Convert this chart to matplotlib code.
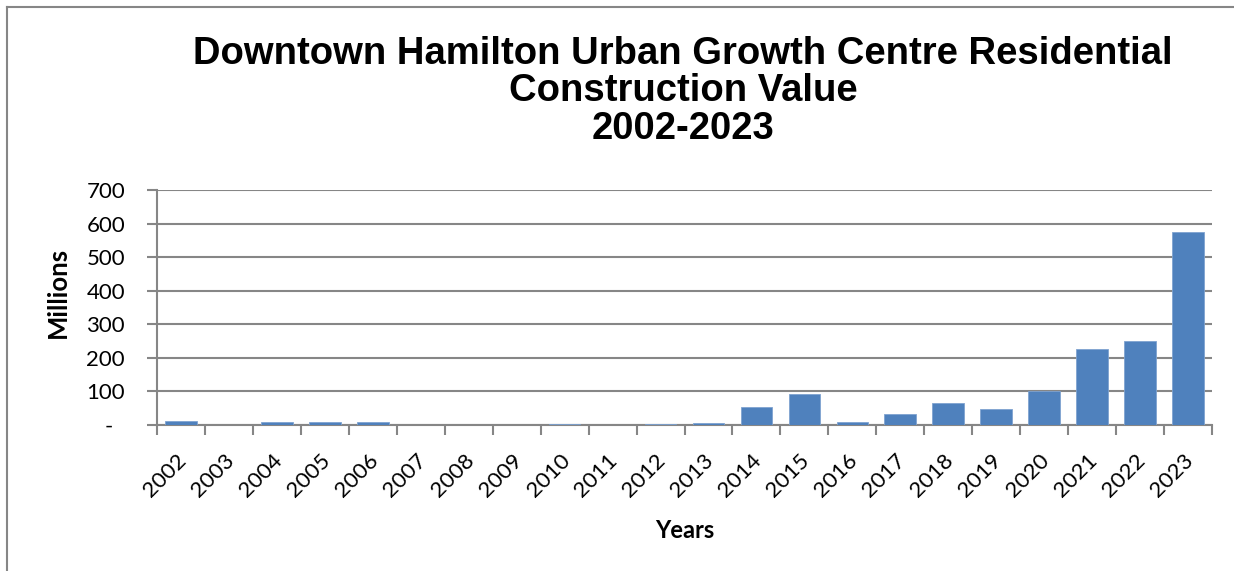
import matplotlib.pyplot as plt
import matplotlib.transforms as mtransforms
import numpy as np

years = [str(y) for y in range(2002, 2024)]
values = [13, 0, 8, 8, 10, 0, 0, 0, 2, 0, 4, 7,
          55, 93, 9, 33, 67, 48, 101, 225, 251, 575]
y_ticks = [0, 100, 200, 300, 400, 500, 600, 700]
y_tick_labels = ['-  ', '100', '200', '300', '400', '500', '600', '700']

title = 'Downtown Hamilton Urban Growth Centre Residential\nConstruction Value\n2002-2023'

BAR_COLOR = '#4F81BD'
GRID_COLOR = '#868686'
LABEL_FONT = 'Lato'

fig = plt.figure(figsize=(12.34, 5.71), dpi=100)
ax = fig.add_axes([157 / 1234, 1 - 425 / 571, (1212 - 157) / 1234, (425 - 190) / 571])

x = np.arange(len(years))
ax.bar(x, values, width=0.66, color=BAR_COLOR, edgecolor='#7fa3d0', linewidth=0.6, zorder=3)

ax.set_xlim(-0.5, len(years) - 0.5)
ax.set_ylim(0, 700)

# y axis
ax.set_yticks(y_ticks)
ax.set_yticklabels(y_tick_labels, fontsize=16, family=LABEL_FONT)
ax.yaxis.grid(True, color=GRID_COLOR, linewidth=1.5, zorder=0)
ax.tick_params(axis='y', length=7, width=1.5, color=GRID_COLOR, pad=16)

# x axis: ticks at category boundaries, labels at centres
ax.set_xticks(np.arange(-0.5, len(years)), minor=False)
ax.set_xticklabels([])
ax.set_xticks(x, minor=True)
ax.set_xticklabels(years, minor=True, rotation=45, ha='right', va='top',
                   rotation_mode='anchor', fontsize=16, family=LABEL_FONT)
ax.tick_params(axis='x', which='major', length=7, width=1.5, color=GRID_COLOR)
ax.tick_params(axis='x', which='minor', length=0, pad=18)
shift = mtransforms.ScaledTranslation(-5 / 100, 0, fig.dpi_scale_trans)
for lbl in ax.get_xticklabels(minor=True):
    lbl.set_transform(lbl.get_transform() + shift)

for side in ['top', 'right']:
    ax.spines[side].set_visible(False)
for side in ['left', 'bottom']:
    ax.spines[side].set_color(GRID_COLOR)
    ax.spines[side].set_linewidth(1.5)

ax.set_xlabel('Years', fontsize=17, family=LABEL_FONT, fontweight='bold', va='center')
ax.xaxis.set_label_coords(0.5, -0.447)
ax.set_ylabel('Millions', fontsize=18.5, family=LABEL_FONT, fontweight='bold')
ax.yaxis.set_label_coords(-0.0825, 0.566)

fig.text(0.5535, 1 - 36 / 571, title, ha='center', va='top', fontsize=27.5,
         fontweight='bold', family='Liberation Sans', linespacing=1.05)

# outer chart border (top and left edges visible)
fig.add_artist(plt.Line2D([7 / 1234, 1], [1 - 7 / 571, 1 - 7 / 571], color=GRID_COLOR, linewidth=1.5,
                          transform=fig.transFigure))
fig.add_artist(plt.Line2D([7 / 1234, 7 / 1234], [0, 1 - 7 / 571], color=GRID_COLOR, linewidth=1.5,
                          transform=fig.transFigure))

fig.savefig('out.png', dpi=100)
